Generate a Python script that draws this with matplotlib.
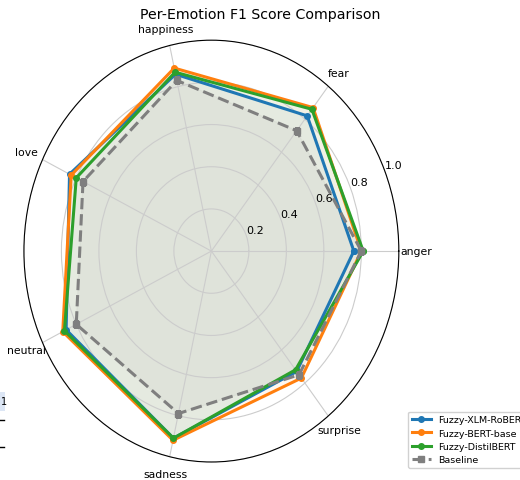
import numpy as np
import matplotlib.pyplot as plt
from matplotlib.patches import Rectangle
from matplotlib.lines import Line2D

emotions = ["anger", "fear", "happiness", "love", "neutral", "sadness", "surprise"]

xlm_roberta = [0.76, 0.82, 0.86, 0.84, 0.86, 0.91, 0.73]
bert_base = [0.80, 0.87, 0.89, 0.83, 0.88, 0.92, 0.77]
distilbert = [0.81, 0.86, 0.87, 0.80, 0.87, 0.91, 0.72]
baseline = [0.80, 0.73, 0.83, 0.76, 0.80, 0.79, 0.75]

model_names = ["Fuzzy-XLM-RoBERTa", "Fuzzy-BERT-base", "Fuzzy-DistilBERT", "Baseline"]

angles = np.linspace(0, 2 * np.pi, len(emotions), endpoint=False)
closed = np.concatenate([angles, angles[:1]])

fig = plt.figure(figsize=(5.2, 4.81), dpi=100)
ax = fig.add_axes([0.046, 0.0374, 0.721, 0.877], projection="polar")
ax.set_aspect("auto")

styles = [
    ("#1f77b4", "-", "o"),
    ("#ff7f0e", "-", "o"),
    ("#2ca02c", "-", "o"),
    ("#7f7f7f", "--", "s"),
]

for vals, name, (color, ls, mk) in zip(
    [xlm_roberta, bert_base, distilbert, baseline], model_names, styles
):
    v = np.concatenate([vals, vals[:1]])
    ax.plot(closed, v, color=color, linestyle=ls, marker=mk,
            linewidth=2.2, markersize=4, label=name)
    ax.fill(closed, v, color=color, alpha=0.06)

ax.set_xticks(angles)
ax.set_xticklabels(emotions, fontsize=7.8)
ax.tick_params(axis="x", pad=2)
ax.set_ylim(0, 1.0)
ax.set_yticks([0.2, 0.4, 0.6, 0.8, 1.0])
ax.set_yticklabels(["0.2", "0.4", "0.6", "0.8", "1.0"], fontsize=8)
ax.grid(True, color="#cccccc", linewidth=0.8)

fig.suptitle("Per-Emotion F1 Score Comparison", fontsize=10.2,
             x=0.5, y=1 - 15 / 481, va="center")

ax.legend(loc="upper left", bbox_to_anchor=(0.776, 0.152),
          bbox_transform=fig.transFigure, fontsize=6.8, framealpha=0.9,
          labelspacing=0.45)

# neighbouring table edge at the left border
fig.add_artist(Rectangle((0, 1 - 412 / 481), 5 / 520, 19 / 481,
                         transform=fig.transFigure, color="#dce6f5", lw=0))
fig.text(0.002, 1 - 402 / 481, "1", fontsize=7, va="center")
for yy in (421, 448):
    fig.add_artist(Line2D([0, 4 / 520], [1 - yy / 481] * 2,
                          transform=fig.transFigure, color="black", lw=1))

fig.savefig("out.png", dpi=100)
